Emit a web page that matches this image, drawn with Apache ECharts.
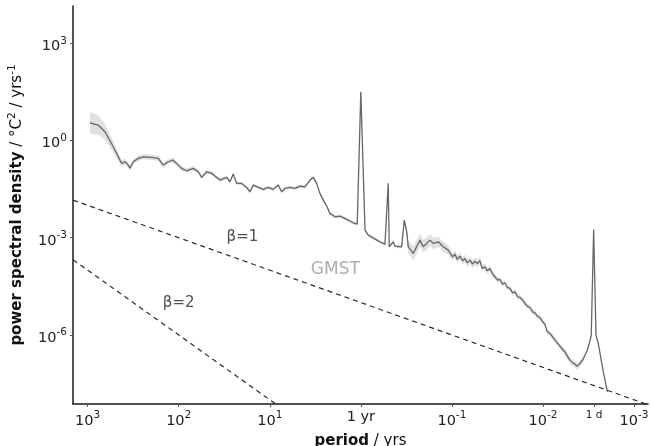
<!DOCTYPE html>
<html>
<head>
<meta charset="utf-8">
<script src="https://cdn.jsdelivr.net/npm/echarts@6/dist/echarts.min.js"></script>
<style>
  html, body { margin: 0; padding: 0; background: #fff; }
  #chart { width: 650px; height: 446px; }
</style>
</head>
<body>
<div id="chart"></div>
<script>
// spectrum, log10(period / yrs) and log10(psd)
const logPeriod = [
  2.975, 2.884, 2.810, 2.719, 2.664, 2.627, 2.590, 2.554, 2.535, 2.499,
  2.444, 2.389, 2.297, 2.225, 2.170, 2.115, 2.066, 2.023, 1.968, 1.913,
  1.840, 1.785, 1.748, 1.693, 1.638, 1.583, 1.547, 1.473, 1.437, 1.401,
  1.364, 1.309, 1.254, 1.217, 1.181, 1.126, 1.071, 1.016, 0.962, 0.907,
  0.869, 0.833, 0.778, 0.723, 0.668, 0.613, 0.558, 0.522, 0.485, 0.449,
  0.412, 0.375, 0.339, 0.284, 0.229, 0.155, 0.083, 0.039, 0.000, -0.046,
  -0.082, -0.210, -0.265, -0.284, -0.301, -0.312, -0.356, -0.375, -0.449, -0.477,
  -0.504, -0.521, -0.576, -0.613, -0.650, -0.686, -0.723, -0.760, -0.796, -0.851,
  -0.906, -0.960, -1.008, -1.034, -1.060, -1.089, -1.118, -1.144, -1.169, -1.199,
  -1.228, -1.254, -1.279, -1.308, -1.334, -1.363, -1.389, -1.418, -1.448, -1.473,
  -1.503, -1.528, -1.557, -1.583, -1.609, -1.638, -1.667, -1.693, -1.722, -1.748,
  -1.777, -1.803, -1.828, -1.858, -1.887, -1.913, -1.938, -1.967, -1.997, -2.022,
  -2.048, -2.077, -2.107, -2.132, -2.158, -2.187, -2.216, -2.242, -2.268, -2.297,
  -2.326, -2.352, -2.377, -2.407, -2.436, -2.462, -2.487, -2.509, -2.531, -2.557,
  -2.583, -2.608, -2.634, -2.663, -2.689, -2.707
]
const logPsd = [
  0.547, 0.476, 0.270, -0.193, -0.502, -0.706, -0.656, -0.758, -0.851, -0.656,
  -0.551, -0.502, -0.521, -0.551, -0.758, -0.656, -0.604, -0.706, -0.860, -0.934,
  -0.860, -0.965, -1.138, -0.965, -1.014, -1.138, -1.221, -1.138, -1.274, -1.036,
  -1.323, -1.323, -1.447, -1.582, -1.376, -1.447, -1.508, -1.447, -1.508, -1.376,
  -1.582, -1.477, -1.447, -1.477, -1.406, -1.428, -1.221, -1.138, -1.323, -1.632,
  -1.839, -2.024, -2.249, -2.354, -2.332, -2.434, -2.539, -2.579, 1.504, -2.764,
  -2.919, -3.126, -3.197, -3.227, -1.323, -3.280, -3.126, -3.258, -3.280, -2.456,
  -2.817, -3.280, -3.484, -3.280, -3.073, -3.280, -3.175, -3.073, -3.175, -3.126,
  -3.280, -3.382, -3.588, -3.506, -3.670, -3.567, -3.711, -3.639, -3.773, -3.691,
  -3.814, -3.722, -3.794, -3.711, -3.948, -3.897, -4.020, -3.948, -4.123, -4.205,
  -4.308, -4.288, -4.432, -4.390, -4.534, -4.565, -4.699, -4.668, -4.823, -4.843,
  -4.925, -5.028, -5.111, -5.152, -5.286, -5.316, -5.419, -5.460, -5.594, -5.666,
  -5.903, -5.954, -6.057, -6.160, -6.242, -6.345, -6.448, -6.520, -6.654, -6.777,
  -6.860, -6.901, -6.962, -6.880, -6.777, -6.623, -6.469, -6.263, -6.006, -2.744,
  -6.006, -6.263, -6.674, -7.137, -7.497, -7.755
]
// half width of the grey uncertainty band, in decades
const bandHalf = [
  0.33, 0.30, 0.25, 0.17, 0.12, 0.10, 0.09, 0.08, 0.08, 0.08,
  0.08, 0.08, 0.08, 0.08, 0.08, 0.08, 0.08, 0.07, 0.07, 0.07,
  0.07, 0.06, 0.06, 0.06, 0.06, 0.06, 0.06, 0.06, 0.06, 0.06,
  0.06, 0.05, 0.05, 0.05, 0.05, 0.05, 0.05, 0.05, 0.05, 0.05,
  0.05, 0.05, 0.05, 0.05, 0.05, 0.05, 0.05, 0.05, 0.05, 0.05,
  0.05, 0.05, 0.05, 0.05, 0.05, 0.05, 0.05, 0.04, 0.02, 0.04,
  0.04, 0.04, 0.04, 0.03, 0.02, 0.03, 0.04, 0.04, 0.06, 0.08,
  0.15, 0.20, 0.22, 0.22, 0.20, 0.20, 0.20, 0.18, 0.18, 0.16,
  0.15, 0.14, 0.12, 0.12, 0.12, 0.12, 0.12, 0.12, 0.12, 0.12,
  0.12, 0.12, 0.12, 0.12, 0.10, 0.10, 0.10, 0.10, 0.09, 0.09,
  0.08, 0.08, 0.08, 0.08, 0.08, 0.08, 0.08, 0.08, 0.08, 0.08,
  0.08, 0.08, 0.08, 0.08, 0.08, 0.08, 0.08, 0.08, 0.08, 0.08,
  0.08, 0.08, 0.08, 0.08, 0.08, 0.08, 0.09, 0.09, 0.10, 0.10,
  0.10, 0.10, 0.10, 0.10, 0.08, 0.06, 0.05, 0.04, 0.03, 0.02,
  0.03, 0.04, 0.04, 0.04, 0.04, 0.04
]
// reference power laws, two end points each (log10 period, log10 psd)
const betaOne = [[3.16, -1.84], [-3.16, -8.16]]
const betaTwo = [[3.16, -3.68], [0.90, -8.20]]

const xTicks = [3, 2, 1, 0, -1, -2, Math.log10(1 / 365.25), -3]
const yTicks = [3, 0, -3, -6]
const noteText = ['β=1', 'β=2', 'GMST']
const notePos = [[1.30, -2.98], [2.00, -5.02], [0.28, -3.97]]

const dayTick = xTicks[6]
const supRich = {
  b: { fontSize: 14.5, lineHeight: 22, color: '#222' },
  s: { fontSize: 10.5, lineHeight: 9, verticalAlign: 'top', color: '#222' },
  y: { fontSize: 14.5, lineHeight: 19, verticalAlign: 'top', color: '#222' },
  d: { fontSize: 10.5, lineHeight: 10, verticalAlign: 'top', color: '#222' }
}

const myChart = echarts.init(document.getElementById('chart'))
const option = {
  animation: false,
  textStyle: { fontFamily: 'DejaVu Sans' },
  grid: { left: 73, right: 2, top: 6, bottom: 42, outerBoundsMode: 'none' },
  xAxis: {
    type: 'value',
    min: -3.154,
    max: 3.161,
    inverse: true,
    name: '{b|period} / yrs',
    nameLocation: 'middle',
    nameGap: 22,
    nameTextStyle: {
      fontSize: 15,
      color: '#111',
      rich: { b: { fontSize: 15, fontWeight: 'bold', color: '#111' } }
    },
    splitLine: { show: false },
    axisLine: { onZero: false, lineStyle: { color: '#1a1a1a', width: 1.5 } },
    axisTick: { customValues: xTicks, length: 3, lineStyle: { color: '#555' } },
    axisLabel: {
      customValues: xTicks,
      margin: 6,
      rich: supRich,
      formatter: (v) => {
        if (Math.abs(v - dayTick) < 1e-6) return '{d|1 d}'
        if (v === 0) return '{y|1 yr}'
        return '{b|10}{s|' + v + '}'
      }
    }
  },
  yAxis: {
    type: 'value',
    min: -8.13,
    max: 4.15,
    name: '{b|power spectral density} / °C{s|2} / yrs{s|-1}',
    nameLocation: 'middle',
    nameRotate: 90,
    nameGap: 38,
    nameTextStyle: {
      fontSize: 15,
      color: '#111',
      lineHeight: 20,
      rich: {
        b: { fontSize: 15, fontWeight: 'bold', lineHeight: 20, color: '#111' },
        s: { fontSize: 10.5, lineHeight: 9, verticalAlign: 'top', color: '#111' }
      }
    },
    splitLine: { show: false },
    axisLine: { show: true, onZero: false, lineStyle: { color: '#1a1a1a', width: 1.5 } },
    axisTick: { show: true, customValues: yTicks, length: 3, lineStyle: { color: '#555' } },
    axisLabel: {
      customValues: yTicks,
      margin: 6,
      padding: [6, 0, 0, 0],
      rich: supRich,
      formatter: (v) => '{b|10}{s|' + v + '}'
    }
  },
  series: [
    {
      // grey band
      type: 'custom',
      silent: true,
      clip: true,
      data: [[logPeriod[0], logPsd[0]]],
      renderItem: (params, api) => {
        const upper = logPeriod.map((p, i) => api.coord([p, logPsd[i] + bandHalf[i]]))
        const lower = logPeriod.map((p, i) => api.coord([p, logPsd[i] - bandHalf[i]])).reverse()
        return {
          type: 'polygon',
          shape: { points: upper.concat(lower) },
          style: { fill: '#e1e1e1' }
        }
      }
    },
    {
      type: 'line',
      data: logPeriod.map((p, i) => [p, logPsd[i]]),
      showSymbol: false,
      silent: true,
      lineStyle: { color: '#666', width: 1.3 }
    },
    {
      type: 'line',
      data: betaOne,
      showSymbol: false,
      silent: true,
      lineStyle: { color: '#2a2a2a', width: 1.2, type: [5, 4] }
    },
    {
      type: 'line',
      data: betaTwo,
      showSymbol: false,
      silent: true,
      lineStyle: { color: '#2a2a2a', width: 1.2, type: [5, 4] }
    },
    {
      type: 'scatter',
      symbolSize: 0,
      silent: true,
      data: notePos.map((v, i) => ({
        value: v,
        label: i === 2 ? { color: '#999', fontSize: 17 } : {}
      })),
      label: {
        show: true,
        position: 'inside',
        fontSize: 15,
        color: '#222',
        formatter: (p) => noteText[p.dataIndex]
      }
    }
  ]
}
option && myChart.setOption(option)
</script>
</body>
</html>
